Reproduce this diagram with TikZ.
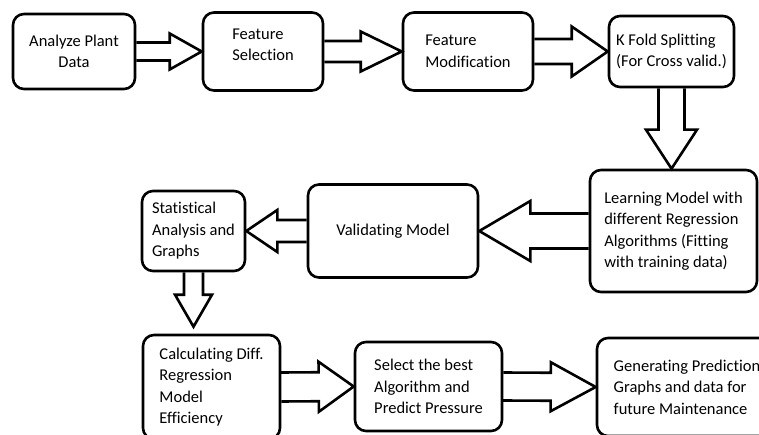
\documentclass[tikz,border=0pt]{standalone}
\usepackage{fontspec}
\setmainfont{Carlito}[Ligatures=NoCommon]
\usetikzlibrary{calc}

\begin{document}
\begin{tikzpicture}[
            x=1pt, y=-1pt,
            every node/.style={font={\fontsize{16.5pt}{21.5pt}\selectfont}},
            box/.style={draw, line width=2.6pt, rounded corners=11pt, align=left, inner sep=0pt},
            % hollow block arrow: shaft half width, head half width, head length
            hollow/.style n args={3}{draw, line width=2.6pt, to path={
                ($(\tikztotarget)!#3!(\tikztostart)$) coordinate (hb)
                ($(\tikztostart)!#1!90:(\tikztotarget)$)
                -- ($(hb)!#1!-90:(\tikztostart)$)
                -- ($(hb)!#2!-90:(\tikztostart)$)
                -- (\tikztotarget)
                -- ($(hb)!#2!90:(\tikztostart)$)
                -- ($(hb)!#1!90:(\tikztostart)$)
                -- ($(\tikztostart)!#1!-90:(\tikztotarget)$)}}
          ]
          \useasboundingbox (0,0) rectangle (759,435);
          \clip (0,0) rectangle (759,435);

          % Top row
          \node[box, align=center, minimum width=122pt, minimum height=75pt] (plant) at (74,51.5) {Analyze Plant\\Data};
          \node[box, minimum width=120pt, minimum height=78pt, text depth=14pt] (select) at (263,51.5) {Feature\\Selection};
          \node[box, minimum width=130pt, minimum height=78pt] (modify) at (468,51.5) {Feature\\Modification};
          \node[box, minimum width=125pt, minimum height=71pt] (kfold) at (671.5,51.5) {K Fold Splitting\\(For Cross valid.)};

          % Middle row
          \node[box, minimum width=167pt, minimum height=122pt] (learn) at (673.5,231) {Learning Model with\\different Regression\\Algorithms (Fitting\\with training data)};
          \node[box, minimum width=170pt, minimum height=93pt] (valid) at (393,231) {Validating Model};
          \node[box, minimum width=103pt, minimum height=80pt] (stats) at (193.5,231) {Statistical\\Analysis and\\Graphs};

          % Bottom row
          \node[box, minimum width=137pt, minimum height=104pt] (effic) at (211.5,387) {Calculating Diff.\\Regression\\Model\\Efficiency};
          \node[box, minimum width=147pt, minimum height=89pt] (best) at (428.5,386.5) {Select the best\\Algorithm and\\Predict Pressure};
          \node[box, minimum width=180pt, minimum height=98pt] (gen) at (687,387) {Generating Prediction\\Graphs and data for\\future Maintenance};

          \coordinate (kfoldtip) at (kfold.south |- learn.north);
          \coordinate (statstip) at ($(stats.south |- effic.north)+(0,-7)$);

          % Block arrows
          \draw[hollow={9pt}{18pt}{32pt}] (plant.east) to (select.west);
          \draw[hollow={10.5pt}{20pt}{41pt}] (select.east) to (modify.west);
          \draw[hollow={12.5pt}{25pt}{36pt}] (modify.east) to (kfold.west);
          \draw[hollow={13pt}{25.5pt}{39pt}] (kfold.south) to (kfoldtip);
          \draw[hollow={17.5pt}{30pt}{51pt}] (learn.west) to (valid.east);
          \draw[hollow={11pt}{21pt}{31pt}] (valid.west) to (stats.east);
          \draw[hollow={9.5pt}{18.5pt}{32pt}] (stats.south) to (statstip);
          \draw[hollow={14.5pt}{25pt}{35pt}] (effic.east) to (best.west);
          \draw[hollow={14pt}{24.5pt}{45pt}] (best.east) to (gen.west);

        \end{tikzpicture}
\end{document}
